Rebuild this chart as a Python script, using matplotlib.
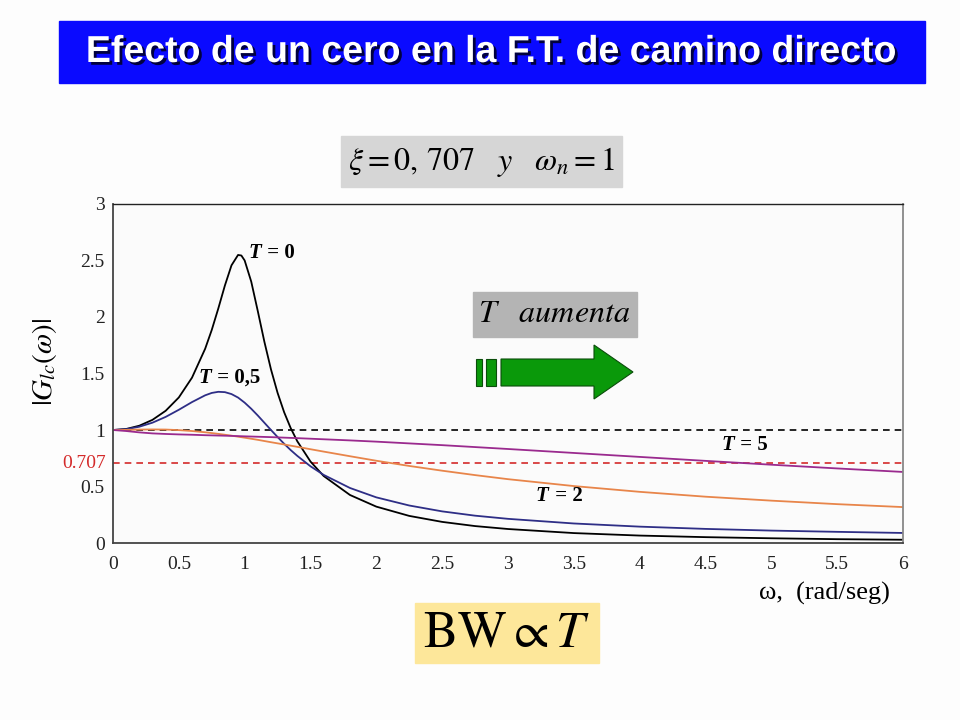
import matplotlib
matplotlib.use('Agg')
import matplotlib.pyplot as plt
import matplotlib.patheffects as pe
from matplotlib.patches import Rectangle, Polygon
from matplotlib.ticker import FormatStrFormatter

plt.rcParams['font.family'] = ['Liberation Serif', 'DejaVu Serif']
plt.rcParams['mathtext.fontset'] = 'stix'

# |G_lc(w)| for each T
w_t0 = [0, 0.1, 0.2, 0.3, 0.4, 0.5, 0.6, 0.7, 0.75, 0.8, 0.85, 0.9, 0.95, 0.975, 1.0,
        1.05, 1.1, 1.15, 1.2, 1.25, 1.3, 1.35, 1.4, 1.5, 1.6, 1.8, 2.0, 2.25, 2.5,
        2.75, 3.0, 3.5, 4.0, 4.5, 5.0, 5.5, 6.0]
g_t0 = [1.0, 1.009, 1.038, 1.090, 1.170, 1.288, 1.463, 1.719, 1.885, 2.076, 2.279,
        2.457, 2.549, 2.544, 2.50, 2.313, 2.051, 1.780, 1.536, 1.329, 1.157, 1.016,
        0.900, 0.721, 0.593, 0.425, 0.322, 0.240, 0.187, 0.150, 0.124, 0.088, 0.066,
        0.052, 0.042, 0.034, 0.029]

w_t05 = [0, 0.1, 0.2, 0.3, 0.4, 0.5, 0.6, 0.7, 0.75, 0.8, 0.85, 0.9, 0.95, 1.0,
         1.05, 1.1, 1.15, 1.2, 1.25, 1.3, 1.35, 1.4, 1.5, 1.6, 1.8, 2.0, 2.25, 2.5,
         2.75, 3.0, 3.5, 4.0, 4.5, 5.0, 5.5, 6.0]
g_t05 = [1.0, 1.007, 1.029, 1.065, 1.116, 1.179, 1.247, 1.307, 1.328, 1.338, 1.335,
         1.318, 1.287, 1.242, 1.188, 1.128, 1.064, 1.0, 0.938, 0.878, 0.822, 0.771,
         0.679, 0.603, 0.487, 0.404, 0.332, 0.280, 0.242, 0.214, 0.173, 0.145, 0.125,
         0.110, 0.099, 0.089]

w_t2 = [0, 0.1, 0.2, 0.3, 0.4, 0.5, 0.6, 0.7, 0.8, 0.9, 1.0, 1.1, 1.2, 1.3, 1.4,
        1.5, 1.6, 1.8, 2.0, 2.25, 2.5, 2.75, 3.0, 3.5, 4.0, 4.5, 5.0, 5.5, 6.0]
g_t2 = [1.0, 1.001, 1.004, 1.005, 1.004, 0.999, 0.991, 0.980, 0.966, 0.950, 0.932,
        0.913, 0.892, 0.872, 0.851, 0.830, 0.809, 0.768, 0.728, 0.682, 0.640, 0.601,
        0.565, 0.504, 0.453, 0.410, 0.375, 0.344, 0.318]

w_t5 = [0, 0.1, 0.2, 0.3, 0.4, 0.5, 0.6, 0.7, 0.8, 0.9, 1.0, 1.2, 1.4, 1.6, 1.8,
        2.0, 2.5, 3.0, 3.5, 4.0, 4.5, 5.0, 5.5, 6.0]
g_t5 = [1.0, 0.991, 0.979, 0.970, 0.965, 0.961, 0.958, 0.954, 0.951, 0.948, 0.944,
        0.937, 0.928, 0.918, 0.908, 0.897, 0.866, 0.832, 0.797, 0.762, 0.727, 0.693,
        0.660, 0.629]

fig = plt.figure(figsize=(9.6, 7.2), dpi=100)
fig.patch.set_facecolor('#fdfdfd')

ax = fig.add_axes([0.1177, 0.2458, 0.8229, 0.4709])
ax.set_facecolor('#fbfbfb')

ax.axhline(1.0, color='black', ls=(0, (4, 3)), lw=1.2)
ax.axhline(0.707, color='#d42a2a', ls=(0, (4, 3)), lw=1.2)

ax.plot(w_t0, g_t0, color='black', lw=1.3)
ax.plot(w_t05, g_t05, color='#2e2e86', lw=1.3)
ax.plot(w_t2, g_t2, color='#e8854a', lw=1.3)
ax.plot(w_t5, g_t5, color='#9a2a8e', lw=1.3)

ax.set_xlim(0, 6)
ax.set_ylim(0, 3)
ax.set_xticks([0, 0.5, 1, 1.5, 2, 2.5, 3, 3.5, 4, 4.5, 5, 5.5, 6])
ax.set_yticks([0, 0.5, 1, 1.5, 2, 2.5, 3])
ax.xaxis.set_major_formatter(FormatStrFormatter('%g'))
ax.yaxis.set_major_formatter(FormatStrFormatter('%g'))
ax.tick_params(length=0, labelsize=14, colors='#222222')
ax.tick_params(axis='y', pad=6)
ax.tick_params(axis='x', pad=9)
for side in ['left', 'bottom']:
    ax.spines[side].set_color('#444444')
    ax.spines[side].set_linewidth(1.3)
ax.spines['top'].set_color('#222222')
ax.spines['top'].set_linewidth(1.0)
ax.spines['right'].set_color('#888888')
ax.spines['right'].set_linewidth(1.3)

ax.text(-0.05, 0.707, '0.707', color='#d42a2a', fontsize=14,
        ha='right', va='center')

# curve labels: bold italic T, bold rest
def curve_label(x, y, rest):
    ax.text(x, y, 'T', fontsize=15, fontweight='bold', fontstyle='italic',
            ha='left', va='center')
    ax.annotate(rest, (x, y), xytext=(10, 0), textcoords='offset points',
                fontsize=15, fontweight='bold', ha='left', va='center')

curve_label(1.03, 2.57, ' = 0')
curve_label(0.65, 1.46, ' = 0,5')
curve_label(4.62, 0.87, ' = 5')
curve_label(3.21, 0.42, ' = 2')

ax.set_ylabel(r'$|G_{lc}(\omega)|$', fontsize=21)
ax.yaxis.set_label_coords(-0.068, 0.534)
ax.text(0.9835, -0.1475, 'ω,  (rad/seg)', transform=ax.transAxes,
        fontsize=19, ha='right', va='center')

# overlay in pixel coordinates for the slide decorations
ov = fig.add_axes([0, 0, 1, 1], facecolor='none')
ov.set_xlim(0, 960)
ov.set_ylim(720, 0)
ov.axis('off')

ov.add_patch(Rectangle((59, 21), 866, 62, color='#0a0aff'))
title = 'Efecto de un cero en la F.T. de camino directo'
ov.text(491, 52, title, family='Liberation Sans', fontweight='bold',
        fontsize=27, color='white', ha='center', va='center',
        path_effects=[pe.withSimplePatchShadow(offset=(2, -2),
                                               shadow_rgbFace='#00002a',
                                               alpha=0.9)])

ov.add_patch(Rectangle((341, 136), 281, 51, color='#d6d6d6'))
ov.text(481, 162, r'$\xi = 0,\,707\quad y\quad \omega_n = 1$', fontsize=23,
        ha='center', va='center')

ov.add_patch(Rectangle((473, 292), 164, 45, color='#b4b4b4'))
ov.text(554, 314, r'$T\quad aumenta$', fontsize=23, ha='center', va='center')

green = '#0a990a'
edge = '#0b4d0b'
ov.add_patch(Rectangle((476, 359), 6, 27, facecolor=green, edgecolor=edge, lw=0.8))
ov.add_patch(Rectangle((486, 359), 10, 27, facecolor=green, edgecolor=edge, lw=0.8))
ov.add_patch(Polygon([(501, 359), (594, 359), (594, 345), (633, 372),
                      (594, 399), (594, 386), (501, 386)],
                     closed=True, facecolor=green, edgecolor=edge, lw=0.8))

ov.add_patch(Rectangle((415, 603), 184, 60, color='#fde79a'))
ov.text(507, 634, r'$\mathrm{BW}\propto T$', fontsize=37, ha='center', va='center')

fig.savefig('out.png', dpi=100, facecolor=fig.get_facecolor())
